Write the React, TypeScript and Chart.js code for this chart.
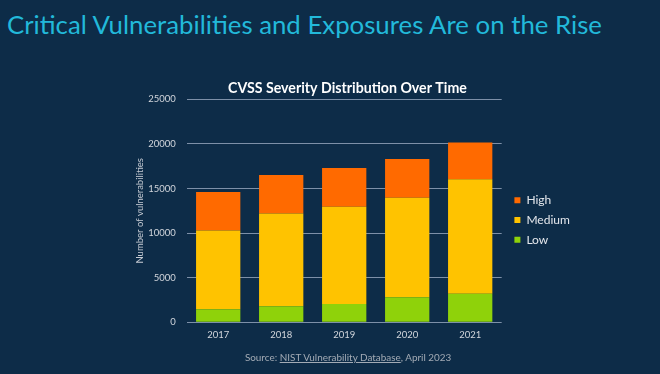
import React, { useEffect, useRef } from 'react';
import { Chart, registerables } from 'chart.js';

Chart.register(...registerables);

// ---- data ----
const years = ['2017', '2018', '2019', '2020', '2021'];
const lowValues = [1450, 1800, 2050, 2800, 3200];
const mediumValues = [8830, 10400, 10900, 11150, 12850];
const highValues = [4320, 4300, 4350, 4350, 4100];
const yTicks = [0, 5000, 10000, 15000, 20000, 25000];
const seriesNames = ['Low', 'Medium', 'High'];
const seriesColors = ['#8fd20a', '#ffc300', '#ff6a00'];

const PAGE_TITLE = 'Critical Vulnerabilities and Exposures Are on the Rise';
const CHART_TITLE = 'CVSS Severity Distribution Over Time';
const Y_TITLE = 'Number of vulnerabilities';
const SOURCE_PRE = 'Source: ';
const SOURCE_LINK = 'NIST Vulnerability Database';
const SOURCE_POST = ', April 2023';

// ---- layout / style ----
const BG = '#0d2c48';
const FAMILY = 'Lato';
const CW = 460;
const CH = 300;
const AREA_LEFT = 66.7;
const AREA_TOP = 29.3;
const AREA_BOTTOM = 252.3;
const AREA_RIGHT = 381.7;
const TITLE_CENTER = 18;
const TITLE_W = 239;
const LEG_FONT = 12;
const LEG_PAD = 7.7;
const LEG_BOX = 6;
const LEG_SHIFT = 5;
const TICK_FONT = 9.5;

function textWidth(text: string, font: string): number {
  const ctx = document.createElement('canvas').getContext('2d')!;
  ctx.font = font;
  return ctx.measureText(text).width;
}

const legendShift = {
  id: 'legendShift',
  afterLayout(chart: any) {
    const l = chart.legend;
    if (l) {
      l.left += LEG_SHIFT;
      l.right += LEG_SHIFT;
    }
  },
};

function CvssChart() {
  const ref = useRef<HTMLCanvasElement>(null);
  useEffect(() => {
    const base = 14;
    const titleSize = (base * TITLE_W) / textWidth(CHART_TITLE, `bold ${base}px ${FAMILY}`);
    const lh = titleSize * 1.2;
    const datasets = [lowValues, mediumValues, highValues].map((vals, i) => ({
      label: seriesNames[i],
      data: vals,
      backgroundColor: seriesColors[i],
      borderWidth: 0,
      barPercentage: 1,
      categoryPercentage: 0.703,
    }));
    const chart = new Chart(ref.current!, {
      type: 'bar',
      data: { labels: years, datasets },
      plugins: [legendShift],
      options: {
        responsive: false,
        animation: false,
        devicePixelRatio: 1,
        layout: { padding: { left: 0, top: 0, bottom: 0, right: 10 } },
        plugins: {
          tooltip: { enabled: false },
          title: {
            display: true,
            text: CHART_TITLE,
            color: '#ffffff',
            font: { family: FAMILY, size: titleSize, weight: 'bold' },
            padding: { top: TITLE_CENTER - lh / 2, bottom: AREA_TOP - TITLE_CENTER - lh / 2 },
          },
          legend: {
            position: 'right',
            reverse: true,
            labels: {
              boxWidth: LEG_BOX,
              boxHeight: LEG_BOX,
              padding: LEG_PAD,
              color: '#e4e7ec',
              font: { family: FAMILY, size: LEG_FONT },
            },
          },
        },
        scales: {
          x: {
            stacked: true,
            grid: { display: false, drawTicks: false },
            border: { display: false },
            ticks: { color: '#d2d6dc', font: { family: FAMILY, size: TICK_FONT }, padding: 7 },
            afterFit: (s: any) => {
              s.height = CH - AREA_BOTTOM;
            },
          },
          y: {
            stacked: true,
            min: 0,
            max: 25000,
            grid: { color: '#7d90a8', lineWidth: 1, drawTicks: false },
            border: { display: false },
            afterBuildTicks: (s: any) => {
              s.ticks = yTicks.map((value) => ({ value }));
            },
            ticks: {
              color: '#d2d6dc',
              font: { family: FAMILY, size: TICK_FONT },
              padding: 11,
              callback: (v: any) => String(v),
            },
            title: {
              display: true,
              text: Y_TITLE,
              color: '#c6cbd3',
              font: { family: FAMILY, size: TICK_FONT },
              padding: { top: 20 - (TICK_FONT * 1.2) / 2, bottom: 0 },
            },
            afterFit: (s: any) => {
              s.width = AREA_LEFT;
            },
          },
        },
      },
    } as any);
    // align the plot's right edge with the reference
    const diff = AREA_RIGHT - chart.chartArea.right;
    (chart.options as any).layout.padding.right = 10 - diff;
    chart.update();
    return () => chart.destroy();
  }, []);
  return (
    <canvas
      ref={ref}
      width={CW}
      height={CH}
      style={{ position: 'absolute', left: 120, top: 70, width: CW, height: CH }}
    />
  );
}

function PageTitle() {
  const size = 25;
  const w = textWidth(PAGE_TITLE, `${size}px ${FAMILY}`);
  const scale = 596.7 / w;
  return (
    <div
      style={{
        position: 'absolute',
        left: 7.3,
        top: 33.3 - 0.987 * size,
        fontFamily: FAMILY,
        fontSize: size,
        lineHeight: 1.2,
        color: '#22b9da',
        whiteSpace: 'nowrap',
        transform: `scaleX(${scale})`,
        transformOrigin: 'left top',
      }}
    >
      {PAGE_TITLE}
    </div>
  );
}

function Source() {
  const size = 10.2;
  const full = SOURCE_PRE + SOURCE_LINK + SOURCE_POST;
  const w = textWidth(full, `${size}px ${FAMILY}`);
  const scale = 207.7 / w;
  return (
    <div
      style={{
        position: 'absolute',
        left: 349 - w / 2,
        width: w,
        top: 360.7 - 0.987 * size,
        fontFamily: FAMILY,
        fontSize: size,
        lineHeight: 1.2,
        color: '#a3abb5',
        whiteSpace: 'nowrap',
        transform: `scaleX(${scale})`,
        transformOrigin: 'center top',
      }}
    >
      {SOURCE_PRE}
      <span style={{ textDecoration: 'underline' }}>{SOURCE_LINK}</span>
      {SOURCE_POST}
    </div>
  );
}

export default function App() {
  return (
    <div
      style={{
        position: 'absolute',
        left: 0,
        top: 0,
        width: 660,
        height: 374,
        background: BG,
        overflow: 'hidden',
      }}
    >
      <PageTitle />
      <CvssChart />
      <Source />
    </div>
  );
}
